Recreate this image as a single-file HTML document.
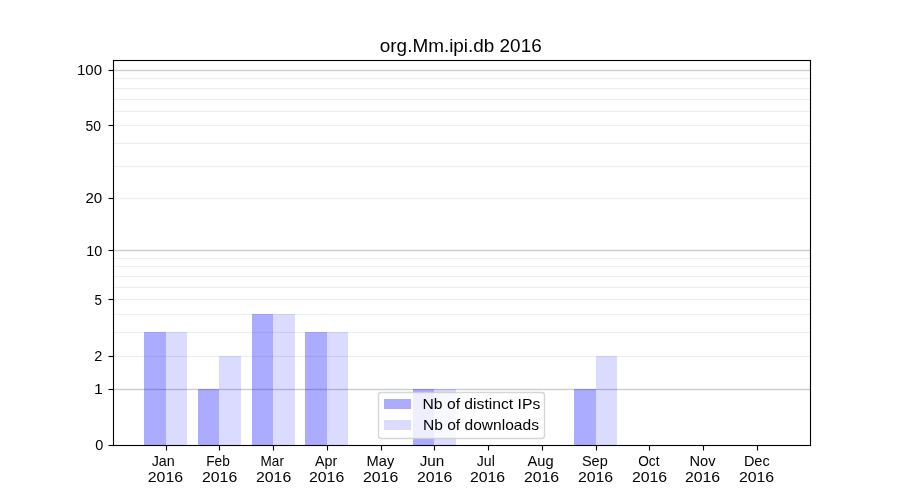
<!DOCTYPE html>
<html><head><meta charset="utf-8"><title>org.Mm.ipi.db 2016</title>
<style>
html,body{margin:0;padding:0;background:#fff;}
body{width:900px;height:500px;overflow:hidden;}
svg{display:block;will-change:transform;}
text{font-family:"Liberation Sans",sans-serif;fill:#000;}
</style></head><body>
<svg width="900" height="500" viewBox="0 0 900 500">
<rect x="0" y="0" width="900" height="500" fill="#fff"/>
<g id="grid">
<rect x="112.5" y="331.944" width="697.5" height="1.111" fill="#eeeeee"/>
<rect x="112.5" y="313.944" width="697.5" height="1.111" fill="#eeeeee"/>
<rect x="112.5" y="286.944" width="697.5" height="1.111" fill="#eeeeee"/>
<rect x="112.5" y="275.944" width="697.5" height="1.111" fill="#eeeeee"/>
<rect x="112.5" y="265.944" width="697.5" height="1.111" fill="#eeeeee"/>
<rect x="112.5" y="257.944" width="697.5" height="1.111" fill="#eeeeee"/>
<rect x="112.5" y="165.944" width="697.5" height="1.111" fill="#eeeeee"/>
<rect x="112.5" y="142.944" width="697.5" height="1.111" fill="#eeeeee"/>
<rect x="112.5" y="110.944" width="697.5" height="1.111" fill="#eeeeee"/>
<rect x="112.5" y="98.944" width="697.5" height="1.111" fill="#eeeeee"/>
<rect x="112.5" y="87.944" width="697.5" height="1.111" fill="#eeeeee"/>
<rect x="112.5" y="77.944" width="697.5" height="1.111" fill="#eeeeee"/>
<rect x="112.5" y="355.944" width="697.5" height="1.111" fill="#eeeeee"/>
<rect x="112.5" y="298.944" width="697.5" height="1.111" fill="#eeeeee"/>
<rect x="112.5" y="197.944" width="697.5" height="1.111" fill="#eeeeee"/>
<rect x="112.5" y="124.944" width="697.5" height="1.111" fill="#eeeeee"/>
<rect x="112.5" y="388.806" width="697.5" height="1.389" fill="#cccccc"/>
<rect x="112.5" y="249.806" width="697.5" height="1.389" fill="#cccccc"/>
<rect x="112.5" y="69.806" width="697.5" height="1.389" fill="#cccccc"/>
</g>
<g id="bars">
<rect x="144" y="332" width="22" height="113" fill="rgb(0,0,255)" fill-opacity="0.33"/>
<rect x="166" y="332" width="21" height="113" fill="rgb(0,0,255)" fill-opacity="0.14"/>
<rect x="198" y="389" width="21" height="56" fill="rgb(0,0,255)" fill-opacity="0.33"/>
<rect x="219" y="356" width="22" height="89" fill="rgb(0,0,255)" fill-opacity="0.14"/>
<rect x="252" y="314" width="21" height="131" fill="rgb(0,0,255)" fill-opacity="0.33"/>
<rect x="273" y="314" width="22" height="131" fill="rgb(0,0,255)" fill-opacity="0.14"/>
<rect x="305" y="332" width="22" height="113" fill="rgb(0,0,255)" fill-opacity="0.33"/>
<rect x="327" y="332" width="21" height="113" fill="rgb(0,0,255)" fill-opacity="0.14"/>
<rect x="413" y="389" width="21" height="56" fill="rgb(0,0,255)" fill-opacity="0.33"/>
<rect x="434" y="389" width="22" height="56" fill="rgb(0,0,255)" fill-opacity="0.14"/>
<rect x="574" y="389" width="22" height="56" fill="rgb(0,0,255)" fill-opacity="0.33"/>
<rect x="596" y="356" width="21" height="89" fill="rgb(0,0,255)" fill-opacity="0.14"/>
</g>
<g id="spines" fill="#000">
<rect x="112.944" y="59.944" width="698.111" height="1.111"/>
<rect x="112.944" y="444.944" width="698.111" height="1.111"/>
<rect x="112.944" y="59.944" width="1.111" height="386.111"/>
<rect x="809.944" y="59.944" width="1.111" height="386.111"/>
<rect x="165.944" y="445.500" width="1.111" height="5.000"/>
<rect x="218.944" y="445.500" width="1.111" height="5.000"/>
<rect x="272.944" y="445.500" width="1.111" height="5.000"/>
<rect x="326.944" y="445.500" width="1.111" height="5.000"/>
<rect x="380.944" y="445.500" width="1.111" height="5.000"/>
<rect x="433.944" y="445.500" width="1.111" height="5.000"/>
<rect x="487.944" y="445.500" width="1.111" height="5.000"/>
<rect x="541.944" y="445.500" width="1.111" height="5.000"/>
<rect x="595.944" y="445.500" width="1.111" height="5.000"/>
<rect x="648.944" y="445.500" width="1.111" height="5.000"/>
<rect x="702.944" y="445.500" width="1.111" height="5.000"/>
<rect x="756.944" y="445.500" width="1.111" height="5.000"/>
<rect x="108.500" y="444.944" width="5.000" height="1.111"/>
<rect x="108.500" y="388.944" width="5.000" height="1.111"/>
<rect x="108.500" y="355.944" width="5.000" height="1.111"/>
<rect x="108.500" y="298.944" width="5.000" height="1.111"/>
<rect x="108.500" y="249.944" width="5.000" height="1.111"/>
<rect x="108.500" y="197.944" width="5.000" height="1.111"/>
<rect x="108.500" y="124.944" width="5.000" height="1.111"/>
<rect x="108.500" y="69.944" width="5.000" height="1.111"/>
</g>
<g id="legend">
<rect x="378.5" y="392.5" width="166" height="46" rx="2.778" ry="2.778" fill="#ffffff" fill-opacity="0.8" stroke="#cccccc" stroke-opacity="0.8" stroke-width="1.389"/>
<rect x="384" y="399" width="27" height="10" fill="rgb(0,0,255)" fill-opacity="0.33"/>
<rect x="384" y="420" width="27" height="10" fill="rgb(0,0,255)" fill-opacity="0.14"/>
</g>
<g id="labels">
<text x="163.18" y="465.78" font-size="14.6" text-anchor="middle" textLength="23.08" lengthAdjust="spacingAndGlyphs">Jan</text>
<text x="165.40" y="481.83" font-size="14.6" text-anchor="middle" textLength="35.25" lengthAdjust="spacingAndGlyphs">2016</text>
<text x="217.95" y="465.78" font-size="14.6" text-anchor="middle" textLength="23.64" lengthAdjust="spacingAndGlyphs">Feb</text>
<text x="219.64" y="481.83" font-size="14.6" text-anchor="middle" textLength="35.25" lengthAdjust="spacingAndGlyphs">2016</text>
<text x="272.26" y="465.78" font-size="14.6" text-anchor="middle" textLength="23.31" lengthAdjust="spacingAndGlyphs">Mar</text>
<text x="273.62" y="481.83" font-size="14.6" text-anchor="middle" textLength="35.25" lengthAdjust="spacingAndGlyphs">2016</text>
<text x="326.21" y="465.78" font-size="14.6" text-anchor="middle" textLength="22.23" lengthAdjust="spacingAndGlyphs">Apr</text>
<text x="326.61" y="481.83" font-size="14.6" text-anchor="middle" textLength="35.25" lengthAdjust="spacingAndGlyphs">2016</text>
<text x="380.48" y="465.78" font-size="14.6" text-anchor="middle" textLength="27.72" lengthAdjust="spacingAndGlyphs">May</text>
<text x="380.60" y="481.83" font-size="14.6" text-anchor="middle" textLength="35.25" lengthAdjust="spacingAndGlyphs">2016</text>
<text x="432.03" y="465.78" font-size="14.6" text-anchor="middle" textLength="24.63" lengthAdjust="spacingAndGlyphs">Jun</text>
<text x="434.58" y="481.83" font-size="14.6" text-anchor="middle" textLength="35.25" lengthAdjust="spacingAndGlyphs">2016</text>
<text x="485.80" y="465.78" font-size="14.6" text-anchor="middle" textLength="17.95" lengthAdjust="spacingAndGlyphs">Jul</text>
<text x="487.57" y="481.83" font-size="14.6" text-anchor="middle" textLength="35.25" lengthAdjust="spacingAndGlyphs">2016</text>
<text x="540.61" y="465.78" font-size="14.6" text-anchor="middle" textLength="26.04" lengthAdjust="spacingAndGlyphs">Aug</text>
<text x="541.56" y="481.83" font-size="14.6" text-anchor="middle" textLength="35.25" lengthAdjust="spacingAndGlyphs">2016</text>
<text x="594.81" y="465.78" font-size="14.6" text-anchor="middle" textLength="25.83" lengthAdjust="spacingAndGlyphs">Sep</text>
<text x="595.54" y="481.83" font-size="14.6" text-anchor="middle" textLength="35.25" lengthAdjust="spacingAndGlyphs">2016</text>
<text x="648.82" y="465.78" font-size="14.6" text-anchor="middle" textLength="21.23" lengthAdjust="spacingAndGlyphs">Oct</text>
<text x="649.53" y="481.83" font-size="14.6" text-anchor="middle" textLength="35.25" lengthAdjust="spacingAndGlyphs">2016</text>
<text x="702.57" y="465.78" font-size="14.6" text-anchor="middle" textLength="26.04" lengthAdjust="spacingAndGlyphs">Nov</text>
<text x="702.52" y="481.83" font-size="14.6" text-anchor="middle" textLength="35.25" lengthAdjust="spacingAndGlyphs">2016</text>
<text x="756.80" y="465.78" font-size="14.6" text-anchor="middle" textLength="25.80" lengthAdjust="spacingAndGlyphs">Dec</text>
<text x="756.50" y="481.83" font-size="14.6" text-anchor="middle" textLength="35.25" lengthAdjust="spacingAndGlyphs">2016</text>
<text x="103.28" y="449.78" font-size="14.6" text-anchor="end" textLength="8.06" lengthAdjust="spacingAndGlyphs">0</text>
<text x="102.78" y="393.95" font-size="14.6" text-anchor="end" textLength="8.87" lengthAdjust="spacingAndGlyphs">1</text>
<text x="102.28" y="360.50" font-size="14.6" text-anchor="end" textLength="8.05" lengthAdjust="spacingAndGlyphs">2</text>
<text x="102.03" y="304.67" font-size="14.6" text-anchor="end" textLength="7.43" lengthAdjust="spacingAndGlyphs">5</text>
<text x="102.28" y="255.91" font-size="14.6" text-anchor="end" textLength="16.06" lengthAdjust="spacingAndGlyphs">10</text>
<text x="102.28" y="202.86" font-size="14.6" text-anchor="end" textLength="16.80" lengthAdjust="spacingAndGlyphs">20</text>
<text x="101.03" y="130.75" font-size="14.6" text-anchor="end" textLength="15.48" lengthAdjust="spacingAndGlyphs">50</text>
<text x="102.03" y="74.72" font-size="14.6" text-anchor="end" textLength="25.04" lengthAdjust="spacingAndGlyphs">100</text>
<text x="460.75" y="51.67" font-size="17.5" text-anchor="middle" textLength="161.88" lengthAdjust="spacingAndGlyphs">org.Mm.ipi.db 2016</text>
<text x="422.49" y="408.73" font-size="14.6" text-anchor="start" textLength="117.76" lengthAdjust="spacingAndGlyphs">Nb of distinct IPs</text>
<text x="422.99" y="429.61" font-size="14.6" text-anchor="start" textLength="116.00" lengthAdjust="spacingAndGlyphs">Nb of downloads</text>
</g>
</svg>
</body></html>
